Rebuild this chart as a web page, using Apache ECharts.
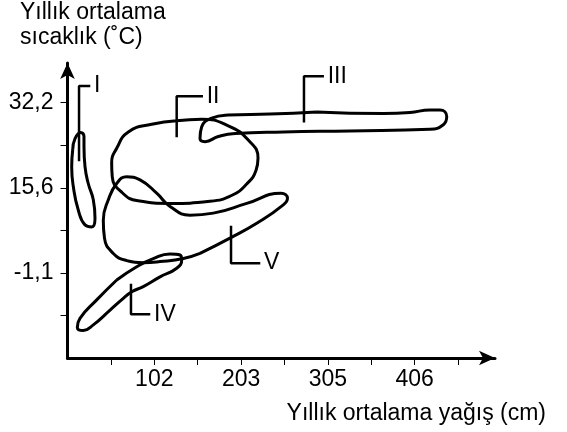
<!DOCTYPE html>
<html>
<head>
<meta charset="utf-8">
<title>Biyomlar</title>
<script src="https://cdn.jsdelivr.net/npm/echarts@6/dist/echarts.min.js"></script>
<style>
  html, body { margin: 0; padding: 0; background: #fff; }
  #chart { width: 567px; height: 432px; }
</style>
</head>
<body>
<div id="chart"></div>
<script>
// eksen değerleri (cm ve °C)
const xTickValues = [50.8, 101.6, 152.4, 203.2, 254, 304.8, 355.6, 406.4, 457.2];
const xLabelValues = [101.6, 203.2, 304.8, 406.4];
const yTickValues = [-9.44, -1.11, 7.22, 15.56, 23.89, 32.22];
const yLabelValues = [-1.11, 15.56, 32.22];

// bölgelerin sınır eğrileri [yağış, sıcaklık]
const curveI = [[6.1, 23.0], [4.9, 19.7], [6.8, 15.8], [12.6, 11.2], [20.5, 8.3], [28.3, 7.9], [32.2, 9.6], [30.2, 13.2], [24.3, 16.4], [20.5, 19.7], [19.3, 23.6], [19.3, 25.6], [15.5, 26.4], [8.8, 25.2], [6.1, 23.0]];
const curveII = [[127.8, 28.7], [157.1, 29.0], [188.2, 27.7], [211.6, 24.9], [223.0, 21.4], [220.7, 19.0], [209.8, 16.3], [192.6, 14.1], [166.8, 12.9], [120.0, 12.5], [82.5, 13.0], [63.4, 14.7], [52.4, 17.7], [51.7, 20.4], [57.6, 23.3], [71.2, 26.5], [98.6, 28.0], [127.8, 28.7]];
const curveIII = [[291.7, 30.4], [369.7, 30.1], [400.9, 30.3], [424.3, 30.8], [436.0, 30.8], [443.9, 29.5], [439.9, 27.9], [424.3, 27.0], [330.7, 26.7], [252.6, 26.5], [196.1, 26.2], [176.5, 25.6], [161.0, 24.6], [155.1, 25.2], [157.1, 27.5], [168.8, 29.2], [188.2, 29.8], [237.0, 30.0], [291.7, 30.4]];
const curveIV = [[57.6, -2.5], [81.0, 0.1], [100.4, 1.7], [120.0, 2.6], [131.7, 2.4], [133.7, 1.4], [127.8, -0.2], [108.3, -1.9], [88.7, -3.8], [75.2, -4.8], [65.3, -6.1], [49.8, -8.4], [30.2, -11.3], [18.5, -12.4], [11.5, -11.8], [14.6, -10.0], [34.2, -6.4], [57.6, -2.5]];
const curveV = [[155.1, 2.7], [190.2, 5.7], [221.5, 8.6], [252.6, 12.2], [257.5, 13.5], [249.9, 14.5], [209.8, 12.5], [170.7, 10.6], [143.4, 10.2], [120.0, 11.9], [104.4, 14.5], [84.9, 17.1], [69.3, 17.7], [57.6, 16.4], [47.8, 13.2], [41.9, 9.2], [43.3, 5.7], [53.6, 2.7], [69.3, 1.3], [88.7, 0.9], [108.3, 1.1], [135.6, 1.7], [155.1, 2.7]];

// etiket çizgileri
const regionNames = ['I', 'II', 'III', 'IV', 'V'];
const leaderI = [[13.5, 21.0], [13.5, 35.5], [25.2, 35.5]];
const leaderII = [[127.8, 25.7], [127.8, 33.5], [157.1, 33.5]];
const leaderIII = [[276.8, 28.6], [276.8, 37.4], [298.7, 37.4]];
const leaderIV = [[74.3, -3.5], [74.3, -9.2], [95.4, -9.2]];
const leaderV = [[191.4, 7.9], [191.4, 0.8], [224.2, 0.8]];

const curves = [curveI, curveII, curveIII, curveIV, curveV];
const leaders = [leaderI, leaderII, leaderIII, leaderIV, leaderV];

const font = 'Liberation Sans, Arial, sans-serif';

const series = [];
curves.forEach((c, i) => {
  series.push({
    name: regionNames[i],
    type: 'line',
    data: c,
    smooth: 0.5,
    showSymbol: false,
    silent: true,
    lineStyle: { color: '#000', width: 3 },
  });
});
leaders.forEach((l, i) => {
  series.push({
    name: regionNames[i] + '-leader',
    type: 'line',
    data: l,
    showSymbol: false,
    silent: true,
    lineStyle: { color: '#000', width: 2.5, cap: 'square' },
    endLabel: {
      show: true,
      formatter: regionNames[i],
      fontSize: 23,
      fontFamily: font,
      color: '#000',
      distance: 5,
    },
  });
});

const myEcharts = echarts.init(document.getElementById('chart'));
const option = {
  animation: false,
  backgroundColor: '#fff',
  title: [
    {
      text: 'Yıllık ortalama\nsıcaklık (˚C)',
      left: 20,
      top: 0,
      padding: 0,
      textStyle: { fontSize: 23, fontWeight: 'normal', color: '#000', fontFamily: font, lineHeight: 25 },
    },
    {
      text: 'Yıllık ortalama yağış (cm)',
      right: 16,
      top: 397,
      textStyle: { fontSize: 23, fontWeight: 'normal', color: '#000', fontFamily: font },
    },
  ],
  grid: {
    left: 67.5,
    right: 72,
    top: 63,
    bottom: 74,
  },
  xAxis: {
    type: 'value',
    min: 0,
    max: 500.4,
    splitLine: { show: false },
    axisLine: {
      onZero: false,
      symbol: ['none', 'arrow'],
      symbolSize: [11, 16],
      lineStyle: { color: '#000', width: 3 },
    },
    axisTick: {
      show: true,
      customValues: xTickValues,
      length: 7,
      lineStyle: { color: '#000', width: 1 },
    },
    axisLabel: {
      customValues: xLabelValues,
      formatter: v => String(Math.round(v)),
      fontSize: 23,
      fontFamily: font,
      color: '#000',
      margin: 10,
    },
  },
  yAxis: {
    type: 'value',
    min: -17.78,
    max: 40,
    splitLine: { show: false },
    axisLine: {
      show: true,
      onZero: false,
      symbol: ['none', 'arrow'],
      symbolSize: [11, 16],
      lineStyle: { color: '#000', width: 3 },
    },
    axisTick: {
      show: true,
      customValues: yTickValues,
      length: 7,
      lineStyle: { color: '#000', width: 1 },
    },
    axisLabel: {
      customValues: yLabelValues,
      formatter: v => v.toFixed(1).replace('.', ','),
      fontSize: 23,
      fontFamily: font,
      color: '#000',
      margin: 14,
    },
  },
  series: series,
};
myEcharts.setOption(option);
</script>
</body>
</html>
